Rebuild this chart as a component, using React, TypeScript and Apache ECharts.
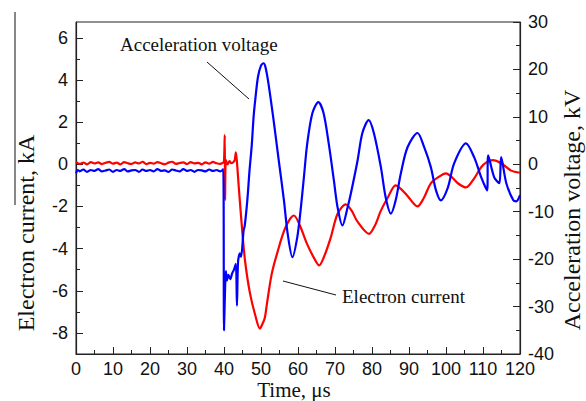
import React, { useEffect, useRef } from "react";
import * as echarts from "echarts";

// Acceleration voltage (kV) — time (µs), value pairs
const voltageTime = [
  0, 0.5, 1, 2, 3, 4, 5, 6, 7, 8, 9, 10, 11, 12, 13, 14, 15, 16, 17, 18, 19, 20,
  21, 22, 23, 24, 25, 26, 27, 28, 29, 30, 31, 32, 33, 34, 35, 36, 37, 38, 39, 39.8,
  40, 40.3, 40.5, 40.8, 41.2, 41.7, 42.2, 42.7, 43.2, 43.5, 43.8, 44.3, 44.6, 45.3,
  45.6, 46.3, 46.9, 47.5, 48, 48.5, 49.2, 50, 50.7, 51.2, 52, 53.4, 54.8, 56.2,
  57.2, 58.5, 59.8, 60.7, 61.6, 62.5, 63.9, 65.5, 66.9, 68.3, 69.7, 70.7, 72, 73.4,
  74.3, 76.1, 77.4, 79.1, 80.5, 82.4, 83.7, 85.1, 86.4, 87.8, 89.6, 92.3, 94.1,
  95.9, 97.3, 98.6, 100.5, 102.2, 105.4, 107.6, 109.5, 111.1, 111.4, 113, 114.4,
  114.9, 116.3, 118.2, 119, 120,
];
const voltageValues = [
  -1.9, -1.2, -1.5, -1.1, -1.6, -1.2, -1.4, -1.0, -1.5, -1.3, -1.1, -1.6, -1.2,
  -1.4, -1.0, -1.5, -1.3, -1.2, -1.6, -1.1, -1.4, -1.2, -1.5, -1.0, -1.4, -1.3,
  -1.6, -1.1, -1.3, -1.5, -1.0, -1.4, -1.2, -1.6, -1.2, -1.3, -1.5, -1.1, -1.4,
  -1.2, -1.5, -1.0,
  -35, -26, -22.5, -24.5, -23.3, -24.2, -23.0, -22.2, -21.0, -29.8, -20.5, -18.8,
  -19.5, -14, -13, -7.6, -1.3, 4, 10, 14, 18.5, 20.8, 21.3, 20.5, 17.1, 9.3, 0.8,
  -7.6, -14.6, -19.6, -15.4, -9.7, -2.7, 4.4, 10.8, 13.1, 10.8, 4.4, -3.4, -9.1,
  -12.9, -9.1, -6.1, 0.8, 6.6, 9.3, 6.6, -0.6, -7, -10.4, -7.6, -1.9, 3.6, 6.6,
  3.6, -0.6, -5.5, -7.6, -4.9, 0.2, 4.4, 1.5, -2.7, -5.5, 1.9, -2.7, -4, 1.5, -4,
  -7.6, -7.8, -6.5,
];

// Electron current (kA)
const currentTime = [
  0, 1, 2, 3, 4, 5, 6, 7, 8, 9, 10, 11, 12, 13, 14, 15, 16, 17, 18, 19, 20, 21, 22,
  23, 24, 25, 26, 27, 28, 29, 30, 31, 32, 33, 34, 35, 36, 37, 38, 39, 39.8,
  40.0, 40.2, 40.3, 40.5, 41, 41.5, 42, 42.5, 42.9, 43.2, 43.5, 44.0, 44.9, 45.7,
  47.0, 48.5, 49.7, 50.2, 51.0, 51.7, 52.9, 54.4, 56.6, 58.9, 60.5, 62.5, 64.5,
  65.7, 67, 68.8, 70.7, 72.9, 74.5, 76, 79.2, 80.8, 82.4, 84.2, 86.4, 88, 89.6,
  92.3, 94, 95.9, 98, 100, 101.5, 103.2, 105.4, 107.5, 109.5, 111, 112.7, 114.9,
  117.6, 120,
];
const currentValues = [
  0.12, 0.02, 0.08, 0.0, 0.1, 0.04, 0.09, 0.01, 0.07, 0.11, 0.03, 0.08, 0.0, 0.1,
  0.05, 0.02, 0.09, 0.04, 0.12, 0.01, 0.07, 0.03, 0.1, 0.05, 0.0, 0.08, 0.12, 0.02,
  0.06, 0.09, 0.01, 0.1, 0.04, 0.07, 0.0, 0.09, 0.03, 0.11, 0.05, 0.02, 0.08,
  0.1, 1.38, -1.7, 0.2, 0.0, 0.15, 0.05, 0.1, 0.2, 0.57, 0.1, -1.1, -3.1, -4.6,
  -6.1, -7.2, -7.8, -7.65, -7.3, -6.5, -5.2, -4.2, -3.0, -2.43, -2.9, -3.8, -4.5,
  -4.8, -4.4, -3.5, -2.35, -1.9, -2.2, -2.7, -3.3, -2.9, -2.2, -1.6, -1.0, -1.2,
  -1.5, -2.0, -1.6, -0.9, -0.6, -0.43, -0.6, -0.9, -1.1, -0.7, -0.14, 0.1, 0.2,
  0.05, -0.3, -0.4,
];

const xTicks = [0, 120, 10];
const leftMajorTicks = [-8, -6, -4, -2, 0, 2, 4, 6];
const leftMinorTicks = [-9, -7, -5, -3, -1, 1, 3, 5];

const SERIF = "'Liberation Serif', 'Times New Roman', serif";
const SANS = "'Liberation Sans', Arial, sans-serif";
const AXIS_COLOR = "#222";

export default function App() {
  const ref = useRef<HTMLDivElement>(null);

  useEffect(() => {
    document.body.style.margin = "0";
    if (!ref.current) return;
    const chart = echarts.init(ref.current, null, { renderer: "svg" });

    const voltData = voltageTime.map((t, i) => [t, voltageValues[i]]);
    const currData = currentTime.map((t, i) => [t, currentValues[i]]);

    const labelStyle = { color: "#111", fontFamily: SANS, fontSize: 18 };

    chart.setOption({
      animation: false,
      backgroundColor: "#fff",
      grid: {
        left: 76,
        top: 22,
        right: 66,
        bottom: 47,
        show: true,
        borderColor: AXIS_COLOR,
        borderWidth: 1,
        backgroundColor: "transparent",
      },
      xAxis: {
        type: "value",
        min: xTicks[0],
        max: xTicks[1],
        interval: xTicks[2],
        axisLine: { show: true, onZero: false, lineStyle: { color: AXIS_COLOR, width: 1.2 } },
        axisTick: { show: true, inside: true, length: 7, lineStyle: { color: AXIS_COLOR } },
        minorTick: { show: true, splitNumber: 2, length: 4, lineStyle: { color: AXIS_COLOR } },
        axisLabel: { ...labelStyle, margin: 6 },
        splitLine: { show: false },
      },
      yAxis: [
        {
          type: "value",
          position: "left",
          min: -9,
          max: 6.75,
          axisLine: { show: true, onZero: false, lineStyle: { color: AXIS_COLOR, width: 1.2 } },
          axisTick: {
            show: true,
            inside: true,
            length: 7,
            customValues: leftMajorTicks,
            lineStyle: { color: AXIS_COLOR },
          },
          axisLabel: { ...labelStyle, margin: 8, customValues: leftMajorTicks },
          splitLine: { show: false },
        },
        {
          type: "value",
          position: "right",
          min: -40,
          max: 30,
          interval: 10,
          axisLine: { show: true, onZero: false, lineStyle: { color: AXIS_COLOR, width: 1.2 } },
          axisTick: { show: true, inside: true, length: 7, lineStyle: { color: AXIS_COLOR } },
          minorTick: { show: true, splitNumber: 2, length: 4, lineStyle: { color: AXIS_COLOR } },
          axisLabel: { ...labelStyle, margin: 8 },
          splitLine: { show: false },
        },
        {
          type: "value",
          position: "left",
          min: -9,
          max: 6.75,
          axisLine: { show: false, onZero: false },
          axisTick: {
            show: true,
            inside: true,
            length: 4,
            customValues: leftMinorTicks,
            lineStyle: { color: AXIS_COLOR },
          },
          axisLabel: { show: false },
          splitLine: { show: false },
        },
      ],
      series: [
        {
          name: "Electron current",
          type: "line",
          yAxisIndex: 0,
          data: currData,
          showSymbol: false,
          symbol: "none",
          smooth: 0.3,
          lineStyle: { color: "#ff0000", width: 2.2 },
          z: 2,
        },
        {
          name: "Acceleration voltage",
          type: "line",
          yAxisIndex: 1,
          data: voltData,
          showSymbol: false,
          symbol: "none",
          smooth: 0.3,
          lineStyle: { color: "#0000ff", width: 2.2 },
          z: 3,
        },
      ],
      graphic: [
        {
          type: "text",
          x: 26,
          y: 233,
          rotation: Math.PI / 2,
          style: {
            text: "Electron current, kA",
            fill: "#111",
            font: `24px ${SERIF}`,
            align: "center",
            verticalAlign: "middle",
          },
        },
        {
          type: "line",
          shape: { x1: 15, y1: 12, x2: 15, y2: 205 },
          style: { stroke: "#111", lineWidth: 1 },
        },
        {
          type: "text",
          x: 572,
          y: 210,
          rotation: Math.PI / 2,
          style: {
            text: "Acceleration voltage, kV",
            fill: "#111",
            font: `24px ${SERIF}`,
            align: "center",
            verticalAlign: "middle",
          },
        },
        {
          type: "text",
          x: 294,
          y: 390,
          style: {
            text: "Time, μs",
            fill: "#111",
            font: `21px ${SERIF}`,
            align: "center",
            verticalAlign: "middle",
          },
        },
        {
          type: "text",
          x: 120,
          y: 44,
          style: {
            text: "Acceleration voltage",
            fill: "#111",
            font: `19px ${SERIF}`,
            align: "left",
            verticalAlign: "middle",
          },
        },
        {
          type: "line",
          shape: { x1: 207, y1: 62, x2: 249, y2: 99 },
          style: { stroke: "#111", lineWidth: 1 },
        },
        {
          type: "text",
          x: 342,
          y: 296,
          style: {
            text: "Electron current",
            fill: "#111",
            font: `19px ${SERIF}`,
            align: "left",
            verticalAlign: "middle",
          },
        },
        {
          type: "line",
          shape: { x1: 283, y1: 281, x2: 336, y2: 295 },
          style: { stroke: "#111", lineWidth: 1 },
        },
      ],
    });

    return () => chart.dispose();
  }, []);

  return <div ref={ref} style={{ width: 586, height: 401 }} />;
}
